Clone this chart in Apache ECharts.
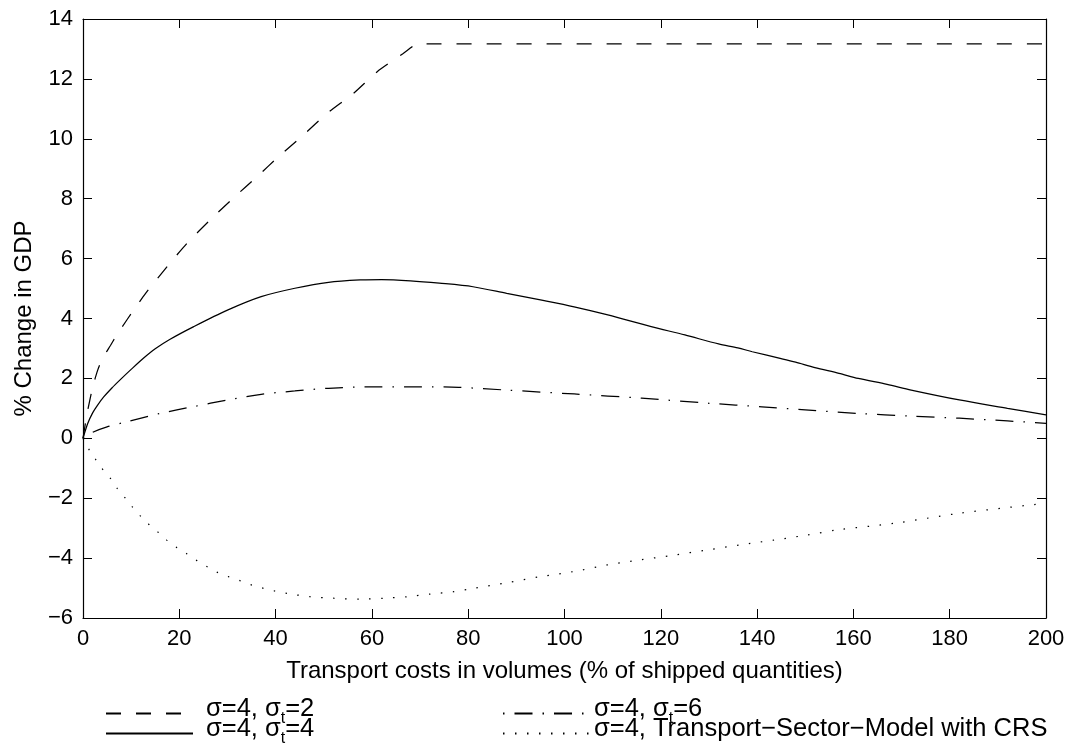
<!DOCTYPE html>
<html>
<head>
<meta charset="utf-8">
<script src="https://cdn.jsdelivr.net/npm/echarts/dist/echarts.min.js"></script>
<style>
html,body{margin:0;padding:0;background:#fff;}
#chart{width:1071px;height:749px;}
</style>
</head>
<body>
<div id="chart"></div>
<script>
// ---- data ----
var xTicks = [0, 20, 40, 60, 80, 100, 120, 140, 160, 180, 200];
var yTicks = [-6, -4, -2, 0, 2, 4, 6, 8, 10, 12, 14];

var xSigT2 = [0, 0.5, 1, 2, 3, 4, 5.7, 7, 9.1, 13, 17.3, 21.6, 26.4, 31.2, 36.1, 41, 45.8, 50.7, 56.2, 61.1, 66.5, 68.6, 69.5, 71, 200];
var ySigT2 = [0, 0.5, 0.95, 1.7, 2.25, 2.65, 3.1, 3.45, 3.95, 4.84, 5.70, 6.51, 7.29, 8.02, 8.73, 9.46, 10.13, 10.85, 11.52, 12.24, 12.85, 13.1, 13.16, 13.17, 13.17];

var xSigT4 = [0, 1, 2, 3, 4.3, 6, 7.7, 10, 12.6, 15, 18, 23, 30, 37, 44, 51, 58, 62, 68, 74, 81, 88, 95, 102, 109, 118, 125, 132, 136, 139, 145, 148, 152, 157, 161, 167, 172, 182, 192, 200];
var ySigT4 = [0, 0.5, 0.85, 1.1, 1.38, 1.68, 1.95, 2.3, 2.68, 2.99, 3.3, 3.73, 4.28, 4.73, 5.01, 5.21, 5.29, 5.30, 5.26, 5.18, 5.06, 4.84, 4.62, 4.39, 4.12, 3.73, 3.45, 3.15, 3.02, 2.89, 2.66, 2.54, 2.36, 2.17, 2.0, 1.80, 1.61, 1.28, 1.0, 0.78];

var xSigT6 = [0, 2, 5, 9, 16, 23, 30, 37, 44, 51, 61, 70, 78, 88, 102, 116, 130, 141, 150, 161, 172, 182, 192, 200];
var ySigT6 = [0, 0.2, 0.38, 0.55, 0.83, 1.06, 1.28, 1.47, 1.58, 1.67, 1.72, 1.72, 1.70, 1.61, 1.48, 1.34, 1.17, 1.05, 0.95, 0.83, 0.74, 0.67, 0.58, 0.5];

var xCRS = [0, 1.2, 2.6, 3.9, 5.7, 7.1, 8.8, 10.2, 11.9, 13.6, 15.7, 17.4, 19.5, 21.6, 23.7, 25.8, 27.8, 30.2, 32.7, 35.1, 37.5, 39.9, 42.4, 47.2, 52, 57.6, 62.4, 67.3, 72.1, 77, 81.1, 88.1, 95, 101.9, 108.8, 115.8, 122.7, 129.6, 136.5, 143.4, 150.4, 156.6, 168.4, 182.2, 200];
var yCRS = [0, -0.36, -0.70, -1.0, -1.34, -1.67, -2.0, -2.28, -2.59, -2.86, -3.15, -3.40, -3.65, -3.86, -4.09, -4.29, -4.47, -4.62, -4.76, -4.90, -5.01, -5.10, -5.18, -5.29, -5.34, -5.37, -5.34, -5.29, -5.2, -5.12, -5.01, -4.82, -4.62, -4.45, -4.23, -4.06, -3.90, -3.73, -3.56, -3.40, -3.23, -3.06, -2.84, -2.5, -2.17];

var seriesNames = ['s2', 's4', 's6', 'crs'];
var legendLabels = {
  s2: ['σ=4, σ', 't', '=2'],
  s4: ['σ=4, σ', 't', '=4'],
  s6: ['σ=4, σ', 't', '=6'],
  crs: ['σ=4, Transport−Sector−Model with CRS', '', '']
};
var xName = 'Transport costs in volumes (% of shipped quantities)';
var yName = '% Change in GDP';

// ---- build ----
function zip(xs, ys) { return xs.map(function (x, i) { return [x, ys[i]]; }); }
var FONT = "'Liberation Sans', Arial, Helvetica, sans-serif";

function mkSeries(name, xs, ys, dash, smooth, offset) {
  return {
    name: name, type: 'line', data: zip(xs, ys),
    symbol: 'none', smooth: smooth, animation: false,
    lineStyle: { color: '#000', width: 1.25, type: dash, dashOffset: offset || 0, cap: 'butt' },
    itemStyle: { color: '#000' }
  };
}

var richBase = {
  f: { fontSize: 25.5, fontFamily: FONT, color: '#000', lineHeight: 23, padding: [0, 0, 9, 8] },
  g: { fontSize: 25.5, fontFamily: FONT, color: '#000', lineHeight: 23, padding: [0, 0, 9, 0] },
  a: { fontSize: 25.5, fontFamily: FONT, color: '#000', lineHeight: 23, padding: [0, 0, 9, 0] },
  b: { fontSize: 16, fontFamily: FONT, color: '#000', lineHeight: 23, padding: [10, 0, 0, 0] }
};

function legendFmt(first) {
  return function (name) {
    var p = legendLabels[name];
    var s = '{' + first + '|' + p[0] + '}';
    if (p[1]) s += '{b|' + p[1] + '}';
    if (p[2]) s += '{a|' + p[2] + '}';
    return s;
  };
}

function mkLegend(name, left, top, width, first) {
  return {
    data: [name], left: left, top: top, padding: 0,
    orient: 'horizontal', itemWidth: width, itemHeight: 14, itemGap: 0,
    selectedMode: false,
    itemStyle: { opacity: 0, color: 'transparent', borderColor: 'transparent', borderWidth: 0 },
    formatter: legendFmt(first),
    textStyle: { rich: richBase, fontFamily: FONT, color: '#000' }
  };
}

var axisCommonX = {
  type: 'value', min: 0, max: 200, interval: 20,
  axisLine: { show: true, onZero: false, lineStyle: { color: '#000', width: 1.2 } },
  axisTick: { show: true, inside: true, length: 9, lineStyle: { color: '#000', width: 1 } },
  splitLine: { show: false }
};
var axisCommonY = {
  type: 'value', min: -6, max: 14, interval: 2,
  axisLine: { show: true, onZero: false, lineStyle: { color: '#000', width: 1.2 } },
  axisTick: { show: true, inside: true, length: 9, lineStyle: { color: '#000', width: 1 } },
  splitLine: { show: false }
};

var chart = echarts.init(document.getElementById('chart'), null, { renderer: 'canvas' });
chart.setOption({
  backgroundColor: '#fff',
  animation: false,
  grid: { left: 83, right: 25, top: 19, bottom: 131, containLabel: false },
  xAxis: [
    Object.assign({}, axisCommonX, {
      position: 'bottom',
      axisLabel: { show: true, fontSize: 22, fontFamily: FONT, color: '#000', margin: 10,
        formatter: function (v) { return xTicks.indexOf(v) >= 0 ? String(v) : ''; } },
      name: xName, nameLocation: 'middle', nameGap: 41,
      nameTextStyle: { fontSize: 24, fontFamily: FONT, color: '#000' }
    }),
    Object.assign({}, axisCommonX, { position: 'top', axisLabel: { show: false } })
  ],
  yAxis: [
    Object.assign({}, axisCommonY, {
      position: 'left',
      axisLabel: { show: true, fontSize: 22, fontFamily: FONT, color: '#000', margin: 10,
        formatter: function (v) { return yTicks.indexOf(v) >= 0 ? (v < 0 ? '−' + Math.abs(v) : String(v)) : ''; } },
      name: yName, nameLocation: 'middle', nameGap: 47,
      nameTextStyle: { fontSize: 24, fontFamily: FONT, color: '#000' }
    }),
    Object.assign({}, axisCommonY, { position: 'right', axisLabel: { show: false } })
  ],
  legend: [
    mkLegend('s2', 105, 696, 87, 'f'),
    mkLegend('s4', 105, 716, 87, 'f'),
    mkLegend('s6', 502, 696, 86, 'g'),
    mkLegend('crs', 502, 716, 86, 'g')
  ],
  series: [
    mkSeries('s2', xSigT2, ySigT2, [15, 15], 0.2, 0),
    mkSeries('s4', xSigT4, ySigT4, 'solid', 0.3, 0),
    mkSeries('s6', xSigT6, ySigT6, [18, 10, 1.5, 10], 0.3, 28),
    mkSeries('crs', xCRS, yCRS, [1.5, 10.5], 0.3, 0)
  ]
});
</script>
</body>
</html>
